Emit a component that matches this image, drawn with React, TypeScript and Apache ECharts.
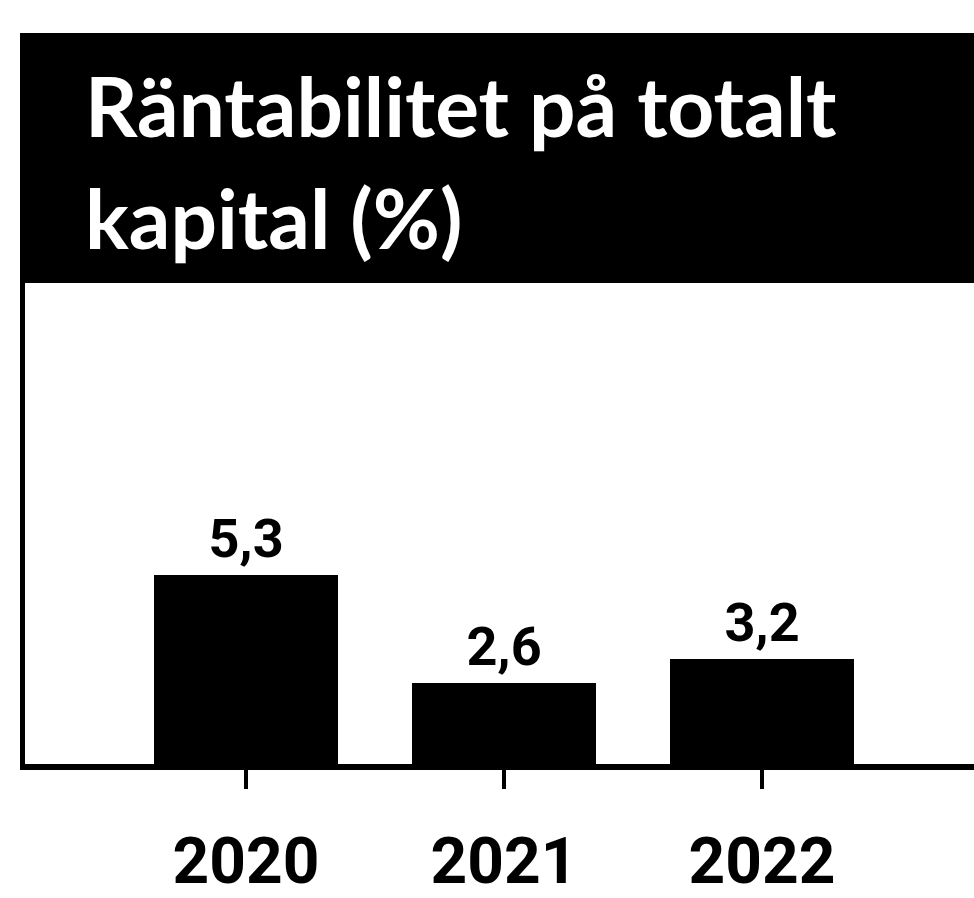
import React, { useEffect, useRef } from "react";
import * as echarts from "echarts";

const years = ["2020", "2021", "2022"];
const values = [5.3, 2.6, 3.2];
const titleText = "Räntabilitet på totalt\nkapital (%)";

export default function App() {
  const ref = useRef<HTMLDivElement>(null);
  useEffect(() => {
    document.body.style.margin = "0";
    const chart = echarts.init(ref.current!, null, { renderer: "svg" });
    chart.setOption({
      animation: false,
      backgroundColor: "#ffffff",
      title: {
        text: titleText,
        left: 80,
        top: 44,
        textStyle: {
          color: "#ffffff",
          fontFamily: "Lato",
          fontWeight: "bold",
          fontSize: 82,
          lineHeight: 112,
        },
      },
      graphic: [
        {
          type: "rect",
          z: -1,
          shape: { x: 20, y: 33, width: 960, height: 250 },
          style: { fill: "#000000" },
        },
        {
          type: "line",
          shape: { x1: 20, y1: 767, x2: 974, y2: 767 },
          style: { stroke: "#000000", lineWidth: 6 },
        },
      ],
      grid: { left: 117, top: 283, width: 774, height: 484 },
      xAxis: {
        type: "category",
        data: years,
        axisLine: { show: false },
        axisTick: {
          show: true,
          alignWithLabel: true,
          length: 22,
          lineStyle: { color: "#000000", width: 4 },
        },
        axisLabel: {
          color: "#000000",
          fontFamily: "Roboto",
          fontWeight: "bold",
          fontSize: 64,
          margin: 62,
        },
      },
      yAxis: {
        type: "value",
        min: 0.5,
        max: 12.6,
        offset: 95,
        axisLine: { show: true, lineStyle: { color: "#000000", width: 5 } },
        axisTick: { show: false },
        axisLabel: { show: false },
        splitLine: { show: false },
      },
      series: [
        {
          type: "bar",
          data: values,
          barWidth: 184,
          itemStyle: { color: "#000000" },
          label: {
            show: true,
            position: "top",
            distance: 10,
            color: "#000000",
            fontFamily: "Roboto",
            fontWeight: "bold",
            fontSize: 54,
            formatter: (p: any) => String(p.value).replace(".", ","),
          },
        },
      ],
    });
    return () => chart.dispose();
  }, []);
  return (
    <div
      ref={ref}
      style={{ position: "absolute", left: 0, top: 0, width: 974, height: 898 }}
    />
  );
}
